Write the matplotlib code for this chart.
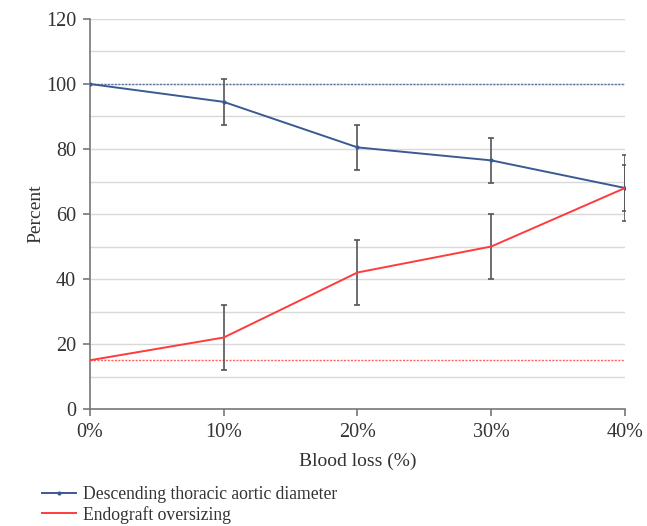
import matplotlib
matplotlib.use("Agg")
import matplotlib.pyplot as plt
import numpy as np

categories = ["0%", "10%", "20%", "30%", "40%"]
aortic_diameter = [100, 94.5, 80.5, 76.5, 68]
aortic_err = [0, 7, 7, 7, 7]
oversizing = [15, 22, 42, 50, 68]
oversizing_err = [0, 10, 10, 10, 10]
aortic_baseline = 100
oversizing_baseline = 15

plt.rcParams['font.family'] = ['Liberation Serif', 'DejaVu Serif']

fig = plt.figure(figsize=(6.47, 5.26), dpi=100)
ax = fig.add_axes([0.139, 0.2224, 0.827, 0.7415])

x = np.arange(len(categories))
blue = "#3b5a93"
red = "#ff3b3b"
errc = "#555555"

for yv in range(10, 121, 10):
    ax.axhline(yv, color="#d9d9d9", lw=1.0, zorder=0)

ax.axhline(aortic_baseline, color=blue, lw=1.0, ls=(0, (1.5, 1.0)), zorder=1, alpha=0.8)
ax.axhline(oversizing_baseline, color=red, lw=1.0, ls=(0, (1.5, 1.0)), zorder=1, alpha=0.8)

ax.errorbar(x[1:], oversizing[1:], yerr=oversizing_err[1:], fmt='none', ecolor=errc,
            elinewidth=1.2, capsize=2.2, capthick=1.2, zorder=2)
ax.errorbar(x[1:], aortic_diameter[1:], yerr=aortic_err[1:], fmt='none', ecolor=errc,
            elinewidth=1.2, capsize=2.2, capthick=1.2, zorder=2)

ax.plot(x, aortic_diameter, color=blue, lw=1.4, marker='o', ms=2, zorder=3,
        label="Descending thoracic aortic diameter")
ax.plot(x, oversizing, color=red, lw=1.4, zorder=3, label="Endograft oversizing")

ax.set_xlim(0, 4)
ax.set_ylim(0, 120)
ax.set_xticks(x)
ax.set_xticklabels(categories)
ax.set_yticks(range(0, 121, 20))
for s in ["top", "right"]:
    ax.spines[s].set_visible(False)
for s in ["left", "bottom"]:
    ax.spines[s].set_color("#777777")
    ax.spines[s].set_linewidth(1.2)
ax.tick_params(axis='both', colors="#777777", labelcolor="#333333", labelsize=14.5,
               length=5, width=1.2)
ax.tick_params(axis='x', pad=5)
ax.tick_params(axis='y', pad=5)
ax.set_xlabel("Blood loss (%)", fontsize=14, color="#333333", labelpad=8)
ax.set_ylabel("Percent", fontsize=14, color="#333333", labelpad=1)

fig.legend(loc='upper left', bbox_to_anchor=(0.065, 0.076), frameon=False,
           fontsize=12.7, handlelength=1.9, handletextpad=0.4, labelspacing=0.15,
           borderaxespad=0, borderpad=0, labelcolor="#333333")

fig.savefig("out.png", dpi=100)
